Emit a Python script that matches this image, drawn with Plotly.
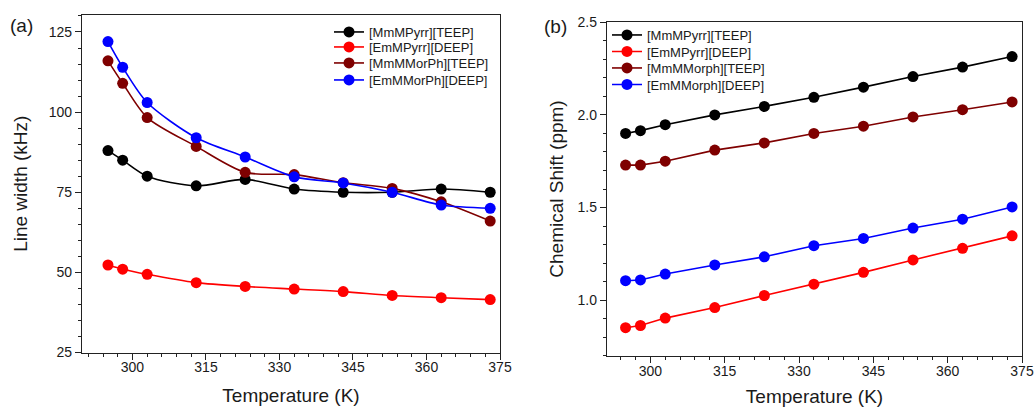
import plotly.graph_objects as go

# ---------------- data ----------------
temps = [295, 298, 303, 313, 323, 333, 343, 353, 363, 373]

names_a = ["[MmMPyrr][TEEP]", "[EmMPyrr][DEEP]", "[MmMMorPh][TEEP]", "[EmMMorPh][DEEP]"]
lw_mmpyrr = [88, 85, 80, 77, 79, 76, 75, 75, 76, 75]
lw_empyrr = [52.3, 51.0, 49.4, 46.8, 45.6, 44.8, 44.0, 42.8, 42.1, 41.5]
lw_mmmorph = [116, 109, 98.3, 89.3, 81.2, 80.5, 78, 76.2, 72, 66]
lw_emmorph = [122, 114, 103, 92, 86, 79.8, 77.9, 75, 71, 70]

names_b = ["[MmMPyrr][TEEP]", "[EmMPyrr][DEEP]", "[MmMMorph][TEEP]", "[EmMMorph][DEEP]"]
cs_mmpyrr = [1.90, 1.915, 1.947, 2.00, 2.046, 2.095, 2.150, 2.207, 2.258, 2.315]
cs_empyrr = [0.851, 0.863, 0.903, 0.960, 1.025, 1.086, 1.150, 1.217, 1.280, 1.347]
cs_mmmorph = [1.729, 1.729, 1.750, 1.810, 1.849, 1.900, 1.939, 1.989, 2.028, 2.070]
cs_emmorph = [1.105, 1.109, 1.141, 1.190, 1.234, 1.294, 1.333, 1.389, 1.437, 1.503]

colors = ["#000000", "#FF0000", "#7F0000", "#0000FF"]

xticks = [300, 315, 330, 345, 360, 375]
yticks_a = [25, 50, 75, 100, 125]
yticks_b = [1.0, 1.5, 2.0, 2.5]

FONT = "Liberation Sans, Arial, sans-serif"
TXT = "#1a1a1a"
W, H = 1035, 407

def px_x(p):
    return p / W

def px_y(p):
    return 1 - p / H

# legend row layout (screen pixels)
leg_a_x, leg_a_rows = 329, [32, 47, 63, 80]
leg_b_x, leg_b_rows = 607, [35, 51.5, 68, 84.5]

fig = go.Figure()

for i, (name, ys, c) in enumerate(zip(names_a, [lw_mmpyrr, lw_empyrr, lw_mmmorph, lw_emmorph], colors)):
    fig.add_trace(go.Scatter(
        x=temps, y=ys, name=name, mode="lines+markers",
        line=dict(color=c, width=1.6, shape="spline", smoothing=0.8),
        marker=dict(color=c, size=11, symbol="circle"),
        xaxis="x", yaxis="y", legend="legend" if i == 0 else f"legend{i + 1}"))

for i, (name, ys, c) in enumerate(zip(names_b, [cs_mmpyrr, cs_empyrr, cs_mmmorph, cs_emmorph], colors)):
    fig.add_trace(go.Scatter(
        x=temps, y=ys, name=name, mode="lines+markers",
        line=dict(color=c, width=1.6),
        marker=dict(color=c, size=11, symbol="circle"),
        xaxis="x2", yaxis="y2", legend=f"legend{i + 5}"))

axis_common = dict(
    showline=True, linecolor="#222", linewidth=1.3, mirror=True,
    ticks="outside", ticklen=6, tickwidth=1, tickcolor="#222",
    showgrid=False, zeroline=False, automargin=False,
    tickfont=dict(family=FONT, size=14, color=TXT),
)
minor_common = dict(ticks="outside", ticklen=3, tickwidth=1, tickcolor="#222")
title_font = dict(family=FONT, size=19, color=TXT)

legends = {}
for i, yy in enumerate(leg_a_rows):
    key = "legend" if i == 0 else f"legend{i + 1}"
    legends[key] = dict(x=px_x(leg_a_x), y=px_y(yy), xanchor="left", yanchor="middle",
                        bgcolor="rgba(0,0,0,0)", font=dict(family=FONT, size=13, color=TXT),
                        itemwidth=30)
for i, yy in enumerate(leg_b_rows):
    legends[f"legend{i + 5}"] = dict(x=px_x(leg_b_x), y=px_y(yy), xanchor="left", yanchor="middle",
                                     bgcolor="rgba(0,0,0,0)", font=dict(family=FONT, size=13, color=TXT),
                                     itemwidth=30)

fig.update_layout(
    width=W, height=H,
    margin=dict(l=0, r=0, t=0, b=0, autoexpand=False),
    paper_bgcolor="white", plot_bgcolor="white",
    font=dict(family=FONT, color=TXT),
    xaxis=dict(domain=[px_x(82), px_x(500)], range=[289.7, 375], anchor="y",
               tickvals=xticks, ticklabelstandoff=-4,
               minor=dict(dtick=3, tick0=300, **minor_common),
               title=dict(text="Temperature (K)", font=title_font, standoff=14),
               **axis_common),
    yaxis=dict(domain=[px_y(352.5), px_y(15)], range=[25, 130.3], anchor="x",
               tickvals=yticks_a,
               minor=dict(dtick=5, tick0=25, **minor_common),
               title=dict(text="Line width (kHz)", font=title_font, standoff=16),
               **axis_common),
    xaxis2=dict(domain=[px_x(607), px_x(1022)], range=[291.25, 375], anchor="y2",
                tickvals=xticks, ticklabelstandoff=-4,
                minor=dict(dtick=3, tick0=300, **minor_common),
                title=dict(text="Temperature (K)", font=title_font, standoff=14),
                **axis_common),
    yaxis2=dict(domain=[px_y(355.7), px_y(22.3)], range=[0.7, 2.5], anchor="x2",
                tickvals=yticks_b, tickformat=".1f",
                minor=dict(dtick=0.1, tick0=0.7, **minor_common),
                title=dict(text="Chemical Shift (ppm)", font=title_font, standoff=8),
                **axis_common),
    showlegend=True,
    annotations=[
        dict(text="(a)", x=px_x(21), y=px_y(26), xref="paper", yref="paper",
             xanchor="center", yanchor="middle", showarrow=False,
             font=dict(family=FONT, size=19, color=TXT)),
        dict(text="(b)", x=px_x(555), y=px_y(26.5), xref="paper", yref="paper",
             xanchor="center", yanchor="middle", showarrow=False,
             font=dict(family=FONT, size=19, color=TXT)),
    ],
    **legends,
)

# remove the browser's default 8px page margin so the figure fills the window exactly
fig.write_html("out.html", config={"displayModeBar": False},
               post_script="document.body.style.margin='0';")
